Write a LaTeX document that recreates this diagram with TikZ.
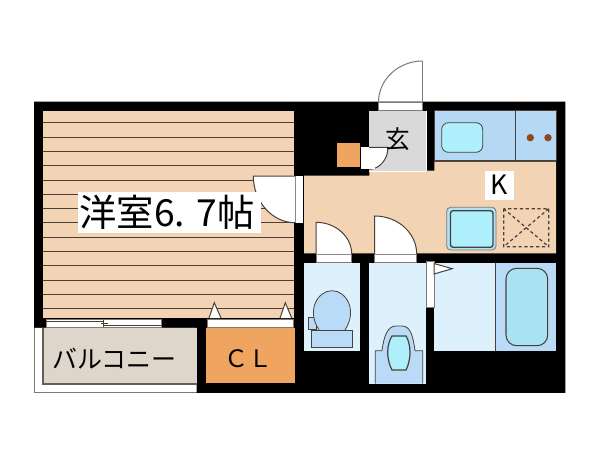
\documentclass[tikz,border=0pt]{standalone}
\usepackage{fontspec}
\setmainfont{Noto Sans CJK JP}
\definecolor{floorc}{HTML}{F2D3B3}
\definecolor{linec}{HTML}{4A4038}
\definecolor{counterc}{HTML}{B5D9F5}
\definecolor{lightb}{HTML}{DDF1FD}
\definecolor{midb}{HTML}{BADBF7}
\definecolor{cyanc}{HTML}{AEEFFC}
\definecolor{tubc}{HTML}{A9E3F3}
\definecolor{orangec}{HTML}{EFA45F}
\definecolor{balc}{HTML}{DED6CA}
\definecolor{entryc}{HTML}{D9D9D9}
\definecolor{burner}{HTML}{8B4A1E}
\tikzset{
  fx/.style={draw=linec,line width=0.6pt},
  doorw/.style={fill=white,draw=linec,line width=0.75pt},
  strip/.style={fill=white,draw=linec!70,line width=0.4pt},
  lab/.style={inner sep=0pt,text=black}
}
\begin{document}
\begin{tikzpicture}[x=0.75pt,y=-0.75pt]
\useasboundingbox (0,0) rectangle (600,450);
% balcony outline
\draw[draw=linec!70,line width=0.5pt,fill=white] (34,327) rectangle (197,392.3);
% walls
\fill[black] (34,101.5) -- (565.3,101.5) -- (565.3,392.8) -- (196.7,392.8) -- (196.7,327.5) -- (34,327.5) -- cycle;
% western room
\fill[floorc] (43.3,110.7) rectangle (294.3,318);
\foreach \y in {122.7,137,151.3,165.7,180,194.3,208.5,222.7,237,251.3,265.6,280,294.3,308.7}
  \draw[linec,line width=0.75pt] (43.3,\y) -- (294.3,\y);
% balcony
\fill[balc] (42.7,327.7) rectangle (196.7,384);
\draw[draw=linec!85,line width=1.2pt] (42.7,327.7) -- (42.7,384) -- (196.7,384);
% closet
\fill[orangec] (206,327.7) rectangle (294.7,383.3);
% window
\draw[strip] (46,319.5) rectangle (161,327.3);
\draw[draw=linec,line width=0.5pt] (46,321.5) -- (104,321.5) (103,325) -- (161,325) (103.3,319.5) -- (103.3,327.3) (101,323.5) -- (108,323.5);
% closet doors
\draw[strip] (207.3,319.3) rectangle (293.3,327.5);
\draw[doorw] (209,318) -- (214.3,302.7) -- (221,318);
\draw[doorw] (280,318) -- (285.3,302.7) -- (291.7,318);
% kitchen floor
\fill[floorc] (304,175.7) -- (369.3,175.7) -- (369.3,170.7) -- (434.3,170.7) -- (434.3,161.7) -- (556,161.7) -- (556,253.3) -- (304,253.3) -- cycle;
% entry
\fill[entryc] (369.3,110.7) rectangle (425.7,170.7);
\draw[draw=white,line width=0.6pt] (369.3,170.9) -- (425.7,170.9) (425.9,110.7) -- (425.9,170.7);
% counter
\draw[draw=linec,fill=counterc,line width=0.5pt] (434.3,110.7) rectangle (556,160.5);
\draw[draw=linec,line width=0.7pt] (515.3,110.7) -- (515.3,160.5);
\draw[fx,fill=cyanc,rounded corners=5pt] (441.7,122.7) rectangle (482.7,152.3);
\fill[burner] (530.3,137.7) circle[radius=3.7];
\fill[burner] (548,137.7) circle[radius=3.7];
% K label
\fill[white] (485,170.7) rectangle (514,200);
\node[lab,font=\fontsize{20}{20}\selectfont] (klabel) at (499.5,185) {K};
% sink unit
\draw[draw=linec!70,line width=0.6pt,fill=tubc!60!midb,rounded corners=3pt] (446.7,207.3) rectangle (496,250);
\draw[draw=linec,line width=1pt,fill=cyanc,rounded corners=2pt] (450.5,210.7) rectangle (493,247.3);
% dotted box
\draw[draw=linec,line width=0.9pt,dash pattern=on 2.4pt off 2pt] (503.7,208.7) rectangle (548.7,246.7) (503.7,208.7) -- (548.7,246.7) (548.7,208.7) -- (503.7,246.7);
% main door
\draw[strip] (378.3,102.3) rectangle (422.7,110);
\draw[draw=linec!70!white,fill=white,line width=0.75pt] (422.7,61) .. controls (398.4,61) and (378.5,79.5) .. (378.5,102);
\draw[draw=linec!70!white,line width=0.75pt] (422.7,61) -- (422.7,102.3);
% meter box
\fill[orangec] (336.7,143.3) rectangle (360.3,166.7);
\fill[white] (360.5,147.3) rectangle (369.3,169.3);
\draw[doorw] (369,147.3) -- (388,147.3) .. controls (388,159.4) and (379.5,169.3) .. (369,169.3);
\fill[white] (369,148) rectangle (375,168.8);
% room door
\fill[white] (295,176) rectangle (303.4,222.7);
\draw[draw=linec!70,line width=0.5pt] (295,176) -- (295,222.7);
\draw[doorw] (295,176) -- (253.3,176) .. controls (253.3,201.7) and (272.4,222.7) .. (295,222.7);
% WC and wash
\fill[lightb] (304.3,262.7) rectangle (360,350.7);
\fill[lightb] (369.3,262.7) rectangle (425.7,383.7);
\fill[lightb] (434.3,262.7) rectangle (495,350.7);
\fill[midb] (495,262.7) rectangle (556,350.7);
\draw[draw=linec,line width=0.6pt] (495,262.7) -- (495,350.7);
% door leaves toward kitchen
\draw[strip] (316,254) rectangle (351.7,262.3);
\draw[doorw] (316,254) -- (316,222.3) .. controls (335.6,222.3) and (351.7,236.6) .. (351.7,254);
\draw[strip] (374.7,254) rectangle (416.7,262.3);
\draw[doorw] (374.7,254) -- (374.7,216) .. controls (397.8,216) and (416.7,233) .. (416.7,254);
% toilet
\draw[fx,fill=midb] (308.7,317.7) rectangle (316,329.3);
\draw[fx,fill=midb] (319,330) .. controls (306,310) and (318,290.7) .. (332,290.7) .. controls (346,290.7) and (358,310) .. (345,330);
\draw[fx,fill=midb] (311.7,330) rectangle (352.7,347.7);
% shower/basin
\draw[fx,fill=midb] (375.3,383.7) -- (375.3,350.7) -- (382,350.7) .. controls (384,335) and (388,326) .. (396,326) -- (402,326) .. controls (410,326) and (413,335) .. (415,350.7) -- (422.7,350.7) -- (422.7,383.7);
\draw[line width=0.9pt,draw=linec,fill=cyanc] (392,336) -- (406,336) .. controls (408,339) and (410,345) .. (410,352) .. controls (410,360) and (408,366) .. (406,370) -- (392,370) .. controls (390,366) and (387.7,360) .. (387.7,352) .. controls (387.7,345) and (390,339) .. (392,336) -- cycle;
% bath door
\draw[strip] (426,261) rectangle (434,307.3);
\draw[doorw] (434,263.5) -- (452.3,268.7) -- (434,274) -- cycle;
% tub
\draw[fx,fill=tubc,rounded corners=8pt,line width=0.8pt] (506,268.3) rectangle (547.7,345.7);
% labels
\fill[white] (77.7,191.7) rectangle (260.7,233);
\node[lab,font=\fontsize{28}{28}\selectfont] (room) at (167,212) {洋室6. 7帖};
\node[lab,font=\fontsize{18.5}{18.5}\selectfont] (entry) at (397.5,139) {玄};
\node[lab,font=\fontsize{18.7}{18.7}\selectfont] (balcony) at (114.5,359) {バルコニー};
\node[lab,font=\fontsize{18}{18}\selectfont] (closet) at (248,359) {ＣＬ};
\end{tikzpicture}
\end{document}
